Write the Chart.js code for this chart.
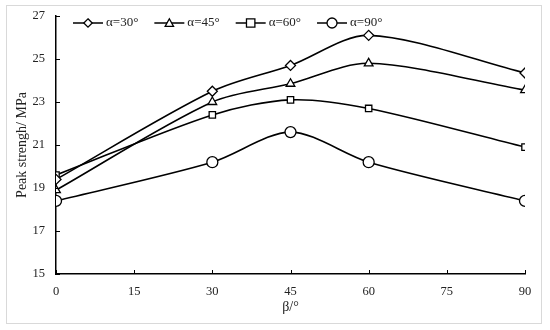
<!DOCTYPE html>
<html>
<head>
<meta charset="utf-8">
<script src="https://cdn.jsdelivr.net/npm/chart.js@4"></script>
<style>
  html, body { margin: 0; padding: 0; background: #fff; }
  #wrap { position: relative; width: 550px; height: 330px; }
  #frame { position: absolute; left: 6px; top: 5px; width: 534px; height: 317px; border: 1px solid #d9d9d9; pointer-events: none; }
  canvas { position: absolute; left: 0; top: 0; }
</style>
</head>
<body>
<div id="wrap">
  <canvas id="chart" width="550" height="330"></canvas>
  <div id="frame"></div>
</div>
<script>
const betas = [0, 30, 45, 60, 90]
const alpha30 = [19.4, 23.5, 24.7, 26.1, 24.35]
const alpha45 = [18.9, 23.0, 23.85, 24.8, 23.55]
const alpha60 = [19.6, 22.4, 23.1, 22.7, 20.9]
const alpha90 = [18.4, 20.2, 21.6, 20.2, 18.4]
const xTicks = [0, 15, 30, 45, 60, 75, 90]
const yTicks = [15, 17, 19, 21, 23, 25, 27]

const serif = "'Liberation Serif', 'Times New Roman', serif"

function drawMarker(g, style, x, y, r) {
  g.beginPath()
  if (style === "circle") {
    g.arc(x, y, r, 0, Math.PI * 2)
  } else if (style === "rect") {
    g.rect(x - r, y - r, r * 2, r * 2)
  } else if (style === "rectRot") {
    g.moveTo(x, y - r); g.lineTo(x + r, y); g.lineTo(x, y + r); g.lineTo(x - r, y); g.closePath()
  } else {
    g.moveTo(x, y - r); g.lineTo(x + r, y + r * 0.8); g.lineTo(x - r, y + r * 0.8); g.closePath()
  }
  g.fill()
  g.stroke()
}

// tick marks point into the plot, like the source
const innerTicks = {
  id: "innerTicks",
  afterDatasetsDraw(chart) {
    const g = chart.ctx
    const { x, y } = chart.scales
    const area = chart.chartArea
    g.save()
    g.strokeStyle = "#000"
    g.lineWidth = 1
    g.beginPath()
    xTicks.forEach(v => {
      const px = Math.round(x.getPixelForValue(v)) + 0.5
      g.moveTo(px, area.bottom)
      g.lineTo(px, area.bottom - 4)
    })
    yTicks.forEach(v => {
      const py = Math.round(y.getPixelForValue(v)) + 0.5
      g.moveTo(area.left, py)
      g.lineTo(area.left + 4, py)
    })
    g.stroke()
    g.restore()
  }
}

// horizontal legend drawn inside the plot, line sample with marker
const inlineLegend = {
  id: "inlineLegend",
  afterDraw(chart) {
    const g = chart.ctx
    const area = chart.chartArea
    let x = area.left + 17
    const y = area.top + 7
    g.save()
    g.font = "13px " + serif
    g.textBaseline = "middle"
    chart.data.datasets.forEach(d => {
      g.strokeStyle = "#000"
      g.lineWidth = 1.5
      g.beginPath()
      g.moveTo(x, y)
      g.lineTo(x + 30, y)
      g.stroke()
      g.fillStyle = "#fff"
      g.lineWidth = 1.3
      drawMarker(g, d.pointStyle, x + 15, y, d.pointStyle === "circle" ? 5 : 4.2)
      g.fillStyle = "#222"
      g.fillText(d.label, x + 33, y)
      x += 33 + g.measureText(d.label).width + 16
    })
    g.restore()
  }
}

function series(label, values, style, radius) {
  return {
    label: label,
    data: betas.map((b, i) => ({ x: b, y: values[i] })),
    borderColor: "#000",
    borderWidth: 1.6,
    backgroundColor: "#fff",
    pointStyle: style,
    pointRadius: radius,
    pointBorderWidth: 1.3,
    pointBackgroundColor: "#fff",
    pointBorderColor: "#000",
    tension: 0.3
  }
}

const ctx = document.getElementById("chart").getContext("2d")
new Chart(ctx, {
  type: "line",
  data: {
    datasets: [
      series("α=30°", alpha30, "rectRot", 5),
      series("α=45°", alpha45, "triangle", 5),
      series("α=60°", alpha60, "rect", 4.5),
      series("α=90°", alpha90, "circle", 5.5)
    ]
  },
  plugins: [innerTicks, inlineLegend],
  options: {
    responsive: false,
    animation: false,
    layout: { padding: { left: 10, right: 25, top: 16, bottom: 14 } },
    plugins: {
      tooltip: { enabled: false },
      legend: { display: false }
    },
    scales: {
      x: {
        type: "linear",
        min: 0,
        max: 90,
        afterBuildTicks: axis => { axis.ticks = xTicks.map(v => ({ value: v })) },
        afterFit: axis => { axis.height = 42 },
        border: { color: "#000", width: 1.5 },
        grid: { drawOnChartArea: false, drawTicks: false },
        ticks: { color: "#222", font: { family: serif, size: 12.5 }, padding: 10.5 },
        title: { display: true, text: "β/°", color: "#222", font: { family: serif, size: 14 }, padding: { top: 0, bottom: 0 } }
      },
      y: {
        min: 15,
        max: 27,
        afterBuildTicks: axis => { axis.ticks = yTicks.map(v => ({ value: v })) },
        afterFit: axis => { axis.width = 46; axis.paddingTop = 0 },
        border: { color: "#000", width: 1.5 },
        grid: { drawOnChartArea: false, drawTicks: false },
        ticks: { color: "#222", font: { family: serif, size: 12.5 }, padding: 11 },
        title: { display: true, text: "Peak strengh/ MPa", color: "#222", font: { family: serif, size: 14 }, padding: { top: 4, bottom: 0 } }
      }
    }
  }
})
</script>
</body>
</html>
